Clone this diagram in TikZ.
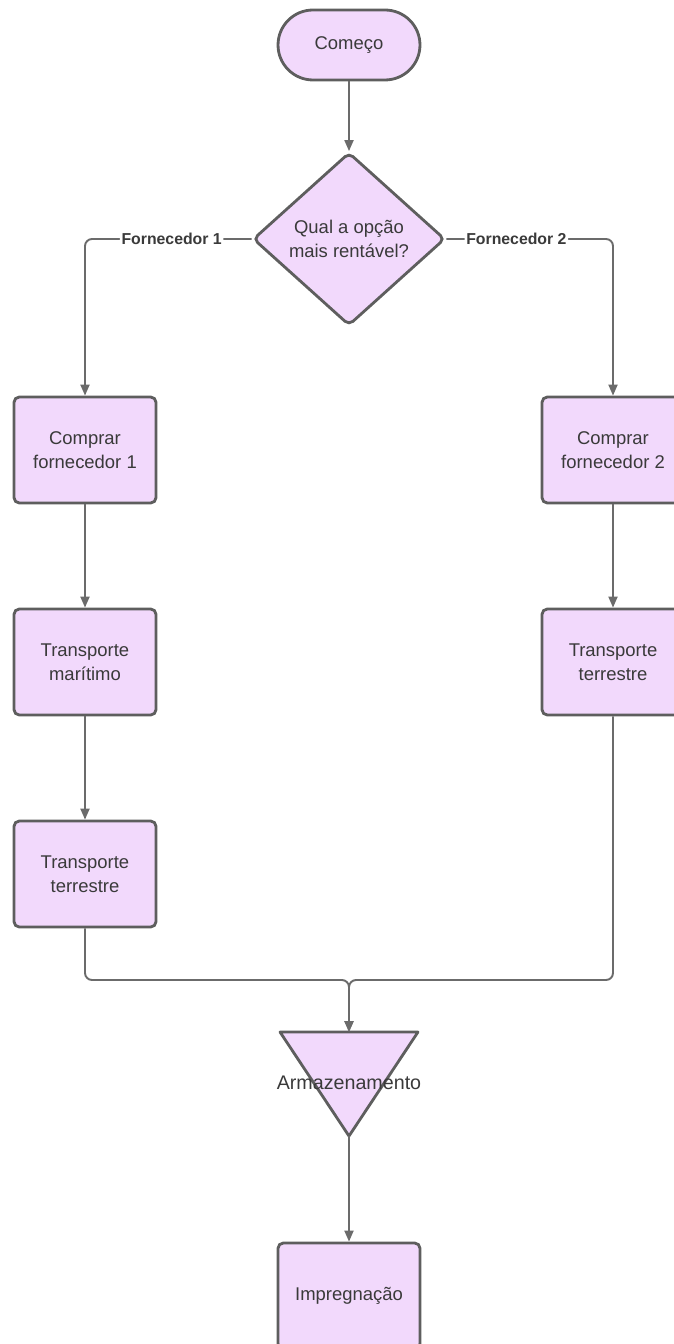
\documentclass[tikz,border=0pt]{standalone}
\usepackage{fontspec}
\setmainfont{Liberation Sans}
\usetikzlibrary{shapes.geometric,arrows.meta}
\definecolor{boxfill}{HTML}{F2D9FC}
\definecolor{boxline}{HTML}{5E5E5E}
\definecolor{flowline}{HTML}{6B6B6B}
\definecolor{txtgray}{HTML}{3A3A3A}

\begin{document}
\begin{tikzpicture}[x=0.02cm, y=-0.02cm,
	procbox/.style={rectangle, rounded corners=3pt, draw=boxline, fill=boxfill, line width=1.6pt, minimum width=2.84cm, minimum height=2.12cm, align=center, text=txtgray, font=\fontsize{10.5}{13.6}\selectfont},
	startbox/.style={procbox, rounded corners=0.7cm, minimum height=1.4cm},
	decision/.style={diamond, rounded corners=3pt, draw=boxline, fill=boxfill, line width=1.6pt, minimum width=3.84cm, minimum height=3.46cm, inner sep=0pt, align=center, text=txtgray, font=\fontsize{10.5}{13.6}\selectfont},
	flow/.style={draw=flowline, line width=1.1pt, rounded corners=4pt, -{Triangle[length=2.2mm, width=1.8mm]}},
	branchlbl/.style={fill=white, inner sep=1pt, text=txtgray, font=\fontsize{9}{10}\selectfont\bfseries}]
	\useasboundingbox (0,0) rectangle (673,1344);
	% Start and decision
	\node[startbox] (start) at (349,45) {Começo};
	\node[decision] (choice) at (349,239) {Qual a opção\\mais rentável?};
	\draw[flow] (start) -- (choice);
	% Supplier 1 branch
	\node[procbox] (buy1) at (85,450) {Comprar\\fornecedor 1};
	\node[procbox] (sea1) at (85,662) {Transporte\\marítimo};
	\node[procbox] (land1) at (85,874) {Transporte\\terrestre};
	\draw[flow] (choice.west) -| node[branchlbl, pos=0.24] {Fornecedor 1} (buy1.north);
	\draw[flow] (buy1) -- (sea1);
	\draw[flow] (sea1) -- (land1);
	% Supplier 2 branch
	\node[procbox] (buy2) at (613,450) {Comprar\\fornecedor 2};
	\node[procbox] (land2) at (613,662) {Transporte\\terrestre};
	\draw[flow] (choice.east) -| node[branchlbl, pos=0.21] {Fornecedor 2} (buy2.north);
	\draw[flow] (buy2) -- (land2);
	% Storage
	\draw[draw=boxline, fill=boxfill, line width=1.6pt, line join=round] (280,1032) -- (418,1032) -- (349,1136) -- cycle;
	\coordinate (stortop) at (349,1032);
	\coordinate (storbot) at (349,1136);
	\node[text=txtgray, font=\fontsize{11.2}{13.6}\selectfont] (store) at (349,1083) {Armazenamento};
	\coordinate (merge) at (349,980);
	\draw[flow] (land1.south) |- (merge) -- (stortop);
	\draw[flow] (land2.south) |- (merge) -- (stortop);
	% Final step
	\node[procbox] (impreg) at (349,1296) {Impregnação};
	\draw[flow] (storbot) -- (impreg);
\end{tikzpicture}
\end{document}
